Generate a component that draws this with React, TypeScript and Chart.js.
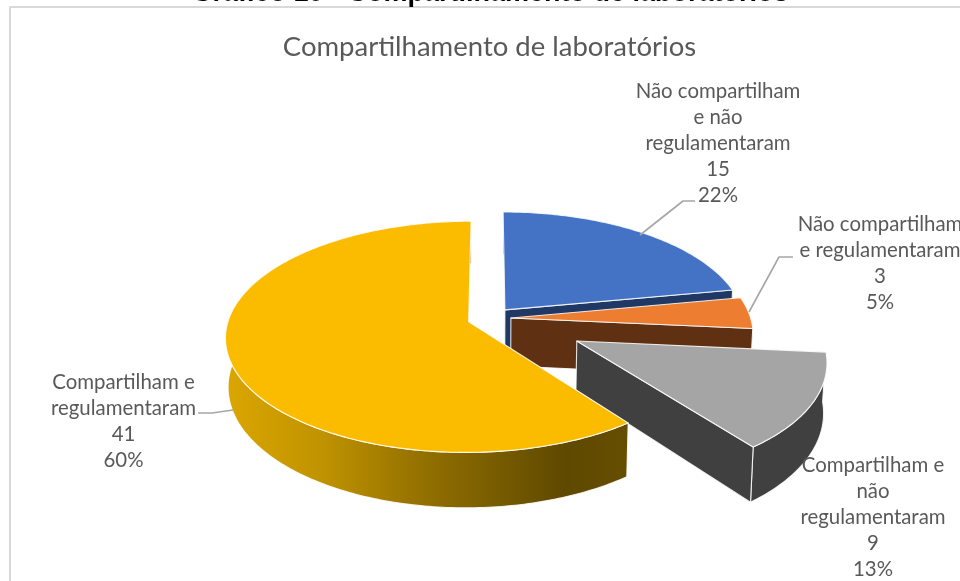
import React, { useEffect, useRef } from "react";
import { Chart, registerables } from "chart.js";

Chart.register(...registerables);

const categories = [
  "Não compartilham e não regulamentaram",
  "Não compartilham e regulamentaram",
  "Compartilham e não regulamentaram",
  "Compartilham e regulamentaram",
];
const values = [15, 3, 9, 41];
const percentLabels = ["22%", "5%", "13%", "60%"];
const labelLines = [
  ["Não compartilham", "e não", "regulamentaram"],
  ["Não compartilham", "e regulamentaram"],
  ["Compartilham e", "não", "regulamentaram"],
  ["Compartilham e", "regulamentaram"],
];
const chartTitle = "Compartilhamento de laboratórios";
const clippedHeading = "Gráfico 10 - Compartilhamento de laboratórios";

const faceColors = ["#4472c4", "#ed7d31", "#a5a5a5", "#fbbc00"];
const wallColors = ["#203864", "#5f3012", "#404040", "#c09300"];
const explosions = [0.1, 0.088, 0.4, 0.09];
const drawOrder = [0, 1, 2, 3];

const SQUASH = 113 / 244;
const RIM_SCALE = 0.985;
const PERSPECTIVE = 0.13;
const DEPTH = 48;
const BOTTOM_SHRINK = 0.99;
const FONT = "Lato, 'Open Sans', sans-serif";
const TEXT = "#595959";
const LEADER = "#a6a6a6";
const LINE_H = 26.2;

// per slice: label centre x, first line centre y, leader polyline
const labelLayout = [
  { x: 718, y: 91, leader: [[640, 235], [683, 201], [695, 201]] },
  { x: 880, y: 224, leader: [[749, 312], [779, 257], [793, 257]] },
  { x: 873, y: 465, leader: [] as number[][] },
  { x: 123.5, y: 382, leader: [[198, 413], [212, 413], [233, 410]] },
];

const pie3d = {
  id: "pie3d",
  beforeDatasetDraw(chart: any) {
    const ctx = chart.ctx as CanvasRenderingContext2D;
    const meta = chart.getDatasetMeta(0);
    const project = (cx: number, cy: number, R: number, X: number, Z: number, low: boolean) => {
      const p = 1 / (1 - PERSPECTIVE * Z);
      const x = R * X * p * (low ? BOTTOM_SHRINK : 1);
      const y = R * SQUASH * Z * p + (low ? DEPTH * p : 0);
      return [cx + x, cy + y];
    };
    drawOrder.forEach((i) => {
      const el = meta.data[i];
      const { x: cx, y: cy, outerRadius: R, startAngle: a0, endAngle: a1 } = el;
      const mid = (a0 + a1) / 2;
      const ox = Math.cos(mid) * explosions[i];
      const oz = Math.sin(mid) * explosions[i];
      const steps = Math.max(8, Math.ceil((a1 - a0) * 60));
      const rim = (low: boolean) => {
        const out: number[][] = [];
        for (let s = 0; s <= steps; s++) {
          const a = a0 + ((a1 - a0) * s) / steps;
          out.push(project(cx, cy, R, ox + RIM_SCALE * Math.cos(a), oz + Math.sin(a), low));
        }
        return out;
      };
      const top = rim(false);
      const bottom = rim(true);
      const apexT = project(cx, cy, R, ox, oz, false);
      const apexB = project(cx, cy, R, ox, oz, true);

      const poly = (pts: number[][], fill: any) => {
        ctx.beginPath();
        pts.forEach((q, n) => (n ? ctx.lineTo(q[0], q[1]) : ctx.moveTo(q[0], q[1])));
        ctx.closePath();
        ctx.fillStyle = fill;
        ctx.fill();
        ctx.strokeStyle = "rgba(255,255,255,0.85)";
        ctx.lineWidth = 1.1;
        ctx.lineJoin = "round";
        ctx.stroke();
      };

      let wall: any = wallColors[i];
      if (i === 3) {
        const g = ctx.createLinearGradient(225, 0, 630, 0);
        g.addColorStop(0, "#dba600");
        g.addColorStop(0.235, "#c09300");
        g.addColorStop(0.53, "#8c6b00");
        g.addColorStop(0.84, "#5f4900");
        g.addColorStop(1, "#664e00");
        wall = g;
      }
      const endT = top[top.length - 1];
      const endB = bottom[bottom.length - 1];
      poly([...top, ...[...bottom].reverse()], wall);
      if (i !== 3) poly([apexT, endT, endB, apexB], wall);
      poly([apexT, ...top], faceColors[i]);
    });
    return false;
  },
  afterDraw(chart: any) {
    const ctx = chart.ctx as CanvasRenderingContext2D;
    ctx.save();
    // sheet frame
    ctx.strokeStyle = "#d9d9d9";
    ctx.lineWidth = 2;
    ctx.beginPath();
    ctx.moveTo(10, 600);
    ctx.lineTo(10, 7);
    ctx.lineTo(970, 7);
    ctx.stroke();
    // clipped heading above the frame
    ctx.fillStyle = "#000";
    ctx.font = "bold 27px 'Liberation Sans', sans-serif";
    ctx.textAlign = "center";
    ctx.textBaseline = "alphabetic";
    ctx.fillText(clippedHeading, 490, 1);
    // leader lines
    ctx.strokeStyle = LEADER;
    ctx.lineWidth = 1.6;
    labelLayout.forEach((l) => {
      if (!l.leader.length) return;
      ctx.beginPath();
      l.leader.forEach((q, n) => (n ? ctx.lineTo(q[0], q[1]) : ctx.moveTo(q[0], q[1])));
      ctx.stroke();
    });
    // data labels
    ctx.fillStyle = TEXT;
    ctx.font = `20.4px ${FONT}`;
    ctx.textBaseline = "middle";
    labelLayout.forEach((l, i) => {
      const lines = [...labelLines[i], String(values[i]), percentLabels[i]];
      lines.forEach((t, n) => ctx.fillText(t, l.x, l.y + n * LINE_H));
    });
    ctx.restore();
  },
};

export default function App() {
  const ref = useRef<HTMLCanvasElement>(null);
  useEffect(() => {
    const chart = new Chart(ref.current as HTMLCanvasElement, {
      type: "pie",
      data: {
        labels: categories,
        datasets: [{ data: values, backgroundColor: faceColors, borderWidth: 0 }],
      },
      options: {
        responsive: false,
        animation: false,
        events: [],
        layout: { padding: { left: 19, right: 0, top: 0, bottom: 19 } },
        plugins: {
          legend: { display: false },
          tooltip: { enabled: false },
          title: {
            display: true,
            text: chartTitle,
            color: TEXT,
            font: { family: FONT, size: 27.5, weight: "normal" },
            padding: { top: 31, bottom: 11 },
          },
        },
      },
      plugins: [pie3d],
    } as any);
    return () => chart.destroy();
  }, []);
  return (
    <canvas
      ref={ref}
      width={960}
      height={581}
      style={{ position: "absolute", left: 0, top: 0, display: "block" }}
    />
  );
}
